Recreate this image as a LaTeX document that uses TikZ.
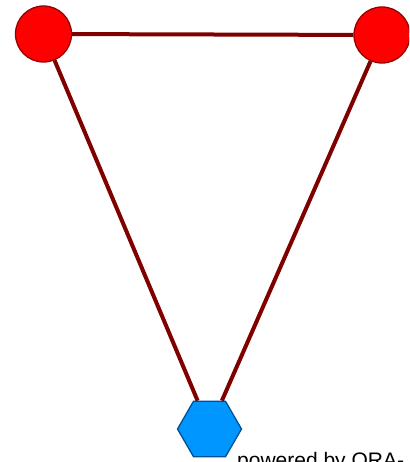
\documentclass[tikz,border=0pt]{standalone}
\usepackage{fontspec}
\setmainfont{Liberation Sans}
\usepackage{tikz}
\usetikzlibrary{shapes.geometric}
\definecolor{agentred}{RGB}{255,0,0}
\definecolor{agentrim}{RGB}{150,0,0}
\definecolor{linkred}{RGB}{128,0,0}
\definecolor{orgblue}{RGB}{0,150,255}
\definecolor{orgrim}{RGB}{0,80,150}
\tikzset{
  agent/.style={circle,draw=agentrim,fill=agentred,line width=1.3pt,
                minimum size=56,inner sep=0pt},
  org/.style={regular polygon,regular polygon sides=6,
              draw=orgrim,fill=orgblue,line width=1.3pt,minimum size=64,inner sep=0pt},
  link/.style={draw=linkred,line width=4pt},
  credit/.style={font=\fontsize{21}{25}\selectfont,inner sep=0pt,anchor=base west},
}

\begin{document}
\begin{tikzpicture}[x=1pt,y=-1pt]
  \useasboundingbox (0,0) rectangle (409,462);
  \clip (0,0) rectangle (409,462);

  \node[agent] (a1) at (43.5,34) {};
  \node[agent] (a2) at (382,35) {};
  \node[org]   (o1) at (209.5,429) {};

  \draw[link] (a1) -- (a2);
  \draw[link] (a1) -- (o1);
  \draw[link] (a2) -- (o1);

  \node[credit] (ora) at (237,467) {powered by ORA-};
\end{tikzpicture}
\end{document}
